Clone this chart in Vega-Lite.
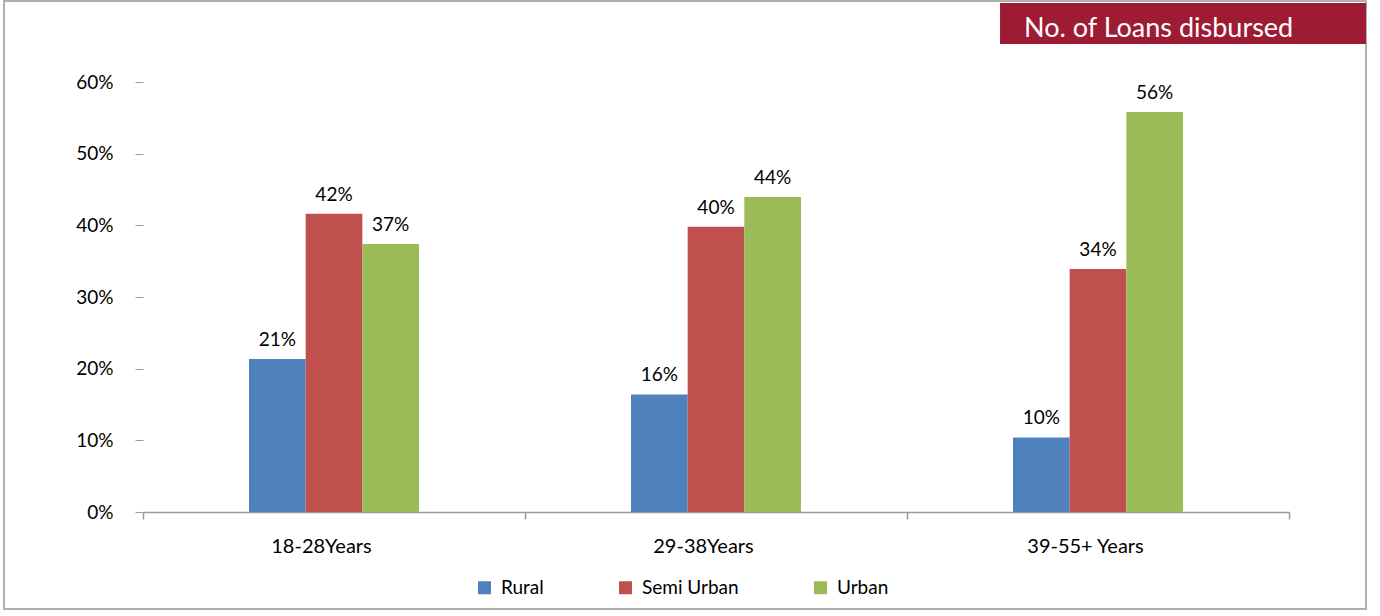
{
  "$schema": "https://vega.github.io/schema/vega-lite/v6.json",
  "width": 1362,
  "height": 608,
  "autosize": {"type": "none"},
  "padding": {"left": 4, "top": 1, "right": 14, "bottom": 7},
  "background": "white",
  "config": {
    "font": "Lato",
    "view": {"stroke": "#B0B0B0", "strokeWidth": 2}
  },
  "datasets": {
    "loans": [
      {"age": "18-28Years", "area": "Rural", "value": 0.2135},
      {"age": "18-28Years", "area": "Semi Urban", "value": 0.416},
      {"age": "18-28Years", "area": "Urban", "value": 0.374},
      {"age": "29-38Years", "area": "Rural", "value": 0.164},
      {"age": "29-38Years", "area": "Semi Urban", "value": 0.398},
      {"age": "29-38Years", "area": "Urban", "value": 0.4395},
      {"age": "39-55+ Years", "area": "Rural", "value": 0.104},
      {"age": "39-55+ Years", "area": "Semi Urban", "value": 0.339},
      {"age": "39-55+ Years", "area": "Urban", "value": 0.558}
    ],
    "header": [{"label": "No. of Loans disbursed"}]
  },
  "layer": [
    {
      "data": {"name": "loans"},
      "encoding": {
        "x": {
          "field": "age",
          "type": "nominal",
          "sort": null,
          "scale": {"range": [139, 1285], "paddingInner": 0, "paddingOuter": 0},
          "axis": {
            "orient": "bottom",
            "offset": -97,
            "title": null,
            "domain": true,
            "domainColor": "#9A9A9A",
            "domainWidth": 1.5,
            "tickBand": "extent",
            "tickSize": 7,
            "tickColor": "#9A9A9A",
            "tickWidth": 1.5,
            "labelFontSize": 20,
            "labelColor": "#000000",
            "labelPadding": 17,
            "labelOffset": -13,
            "labelAngle": 0,
            "grid": false
          }
        },
        "xOffset": {
          "field": "area",
          "type": "nominal",
          "sort": ["Rural", "Semi Urban", "Urban"],
          "scale": {"paddingInner": 0, "paddingOuter": 0, "range": [106, 276]}
        },
        "y": {
          "field": "value",
          "type": "quantitative",
          "scale": {"domain": [0, 0.6], "range": [511, 81], "nice": false, "zero": true},
          "axis": {
            "orient": "left",
            "offset": -139,
            "title": null,
            "domain": false,
            "ticks": true,
            "tickSize": 8,
            "tickColor": "#9A9A9A",
            "tickWidth": 1,
            "values": [0, 0.1, 0.2, 0.3, 0.4, 0.5, 0.6],
            "format": ".0%",
            "labelFontSize": 19,
            "labelColor": "#000000",
            "labelPadding": 22,
            "grid": false
          }
        }
      },
      "layer": [
        {
          "mark": {"type": "bar"},
          "encoding": {
            "color": {
              "field": "area",
              "type": "nominal",
              "scale": {"domain": ["Rural", "Semi Urban", "Urban"], "range": ["#4F81BD", "#C0504D", "#9BBB59"]},
              "legend": {
                "orient": "none",
                "legendX": 471,
                "legendY": 577,
                "direction": "horizontal",
                "title": null,
                "symbolType": "square",
                "symbolSize": 169,
                "symbolStrokeWidth": 0,
                "labelFontSize": 19,
                "labelColor": "#000000",
                "columnPadding": 72,
                "labelOffset": 7,
                "padding": 0
              }
            }
          }
        },
        {
          "mark": {"type": "text", "baseline": "alphabetic", "dy": -13, "fontSize": 19, "color": "#000000"},
          "encoding": {
            "text": {"field": "value", "type": "quantitative", "format": ".0%"}
          }
        }
      ]
    },
    {
      "data": {"name": "header"},
      "layer": [
        {
          "mark": {"type": "rect", "color": "#9E1B34"},
          "encoding": {
            "x": {"datum": 0.7313, "type": "quantitative", "scale": {"domain": [0, 1], "nice": false}, "axis": null},
            "x2": {"datum": 1},
            "y": {"datum": 0.9967, "type": "quantitative", "scale": {"domain": [0, 1], "nice": false}, "axis": null},
            "y2": {"datum": 0.9293}
          }
        },
        {
          "mark": {"type": "text", "align": "left", "baseline": "alphabetic", "fontSize": 27, "color": "#FFFFFF"},
          "encoding": {
            "x": {"datum": 0.7489, "type": "quantitative", "scale": {"domain": [0, 1], "nice": false}, "axis": null},
            "y": {"datum": 0.9408, "type": "quantitative", "scale": {"domain": [0, 1], "nice": false}, "axis": null},
            "text": {"field": "label", "type": "nominal"}
          }
        }
      ]
    }
  ],
  "resolve": {
    "scale": {"x": "independent", "y": "independent", "color": "independent"},
    "axis": {"x": "independent", "y": "independent"}
  }
}
